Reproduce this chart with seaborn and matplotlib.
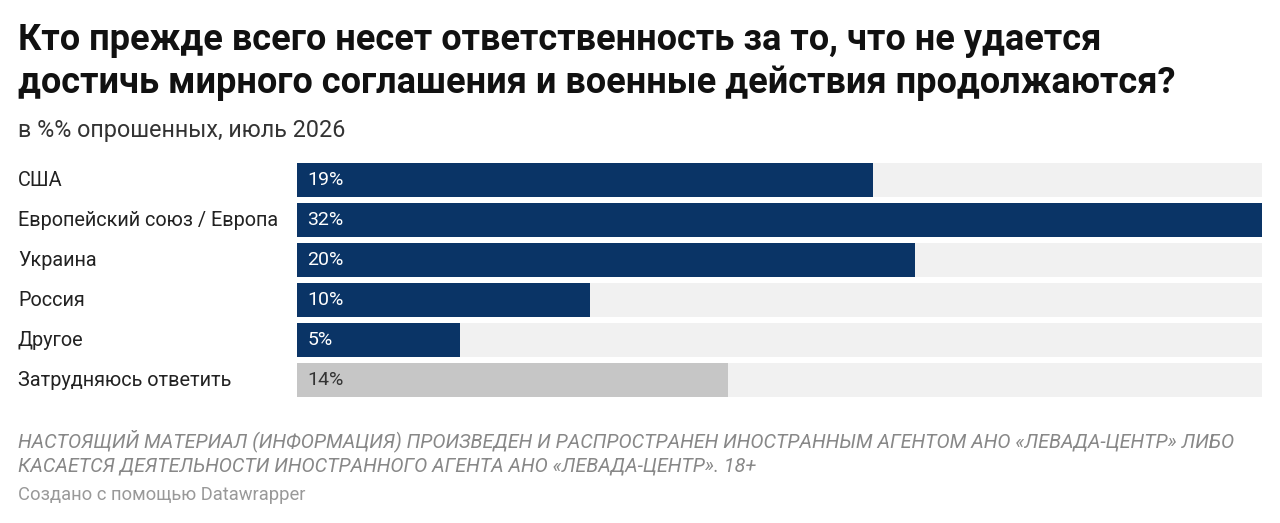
import matplotlib
matplotlib.use("Agg")
import matplotlib.pyplot as plt
import seaborn as sns
import pandas as pd

categories = ['США', 'Европейский союз / Европа', 'Украина', 'Россия', 'Другое', 'Затрудняюсь ответить']
values = [19.1, 32.0, 20.5, 9.7, 5.4, 14.3]
labels = ['19%', '32%', '20%', '10%', '5%', '14%']
max_value = 32.0

sns.set_style("white")
plt.rcParams['font.family'] = ['Roboto', 'DejaVu Sans']

navy = '#0a3466'
grey_bar = '#c6c6c6'
colors = [navy] * 5 + [grey_bar]

df = pd.DataFrame({'cat': categories, 'val': values, 'bg': [max_value] * len(values)})

fig = plt.figure(figsize=(12.8, 5.23), dpi=100)
ax = fig.add_axes([0.232, 0.235, 0.754, 0.459])

sns.barplot(data=df, y='cat', x='bg', color='#f1f1f1', saturation=1, width=0.83,
            linewidth=0, ax=ax, orient='h')
sns.barplot(data=df, y='cat', x='val', hue='cat', palette=colors, legend=False,
            saturation=1, width=0.83, linewidth=0, ax=ax, orient='h')

ax.set_xlim(0, max_value)
ax.set_xlabel('')
ax.set_ylabel('')
ax.set_xticks([])
ax.set_yticks([])
sns.despine(ax=ax, left=True, bottom=True)

for i, (lab, cat) in enumerate(zip(labels, categories)):
    ax.text(0.35, i, lab, va='center', ha='left', fontsize=14,
            color='#333333' if i == 5 else 'white')
    fig.text(18 / 1280, 1 - (180 + 40.2 * i) / 523, cat, va='center', ha='left',
             fontsize=14.3, color='#222222')

fig.text(18 / 1280, 1 - 40 / 523,
         'Кто прежде всего несет ответственность за то, что не удается',
         fontsize=26, fontweight='bold', va='center', color='#111111')
fig.text(18 / 1280, 1 - 83 / 523,
         'достичь мирного соглашения и военные действия продолжаются?',
         fontsize=26, fontweight='bold', va='center', color='#111111')
fig.text(18 / 1280, 1 - 131 / 523, 'в %% опрошенных, июль 2026',
         fontsize=16.8, va='center', color='#333333')

fig.text(18 / 1280, 1 - 441 / 523,
         'НАСТОЯЩИЙ МАТЕРИАЛ (ИНФОРМАЦИЯ) ПРОИЗВЕДЕН И РАСПРОСТРАНЕН ИНОСТРАННЫМ АГЕНТОМ АНО «ЛЕВАДА-ЦЕНТР» ЛИБО',
         fontsize=14.2, style='italic', va='center', color='#888888')
fig.text(18 / 1280, 1 - 466 / 523,
         'КАСАЕТСЯ ДЕЯТЕЛЬНОСТИ ИНОСТРАННОГО АГЕНТА АНО «ЛЕВАДА-ЦЕНТР». 18+',
         fontsize=14.2, style='italic', va='center', color='#888888')
fig.text(18 / 1280, 1 - 495 / 523, 'Создано с помощью Datawrapper',
         fontsize=13.2, va='center', color='#999999')

fig.savefig('out.png', dpi=100)
